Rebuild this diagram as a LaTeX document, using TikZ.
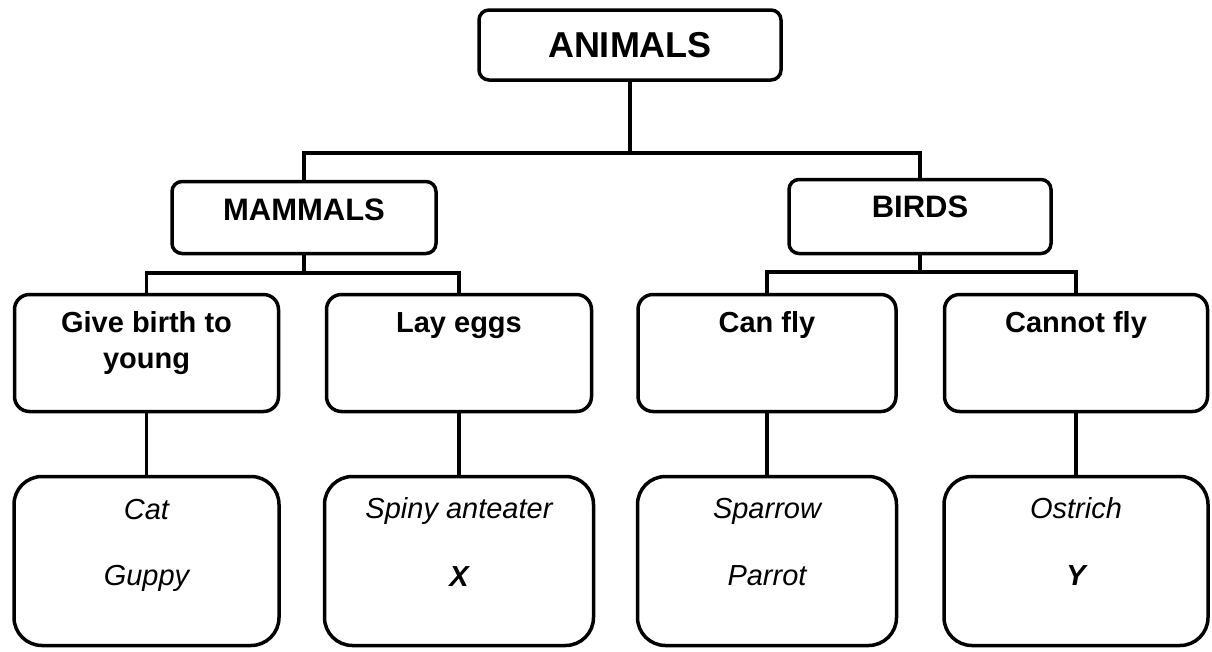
\documentclass[tikz,border=0pt]{standalone}
\usepackage{fontspec}
\setmainfont{Liberation Sans}
\begin{document}
\begin{tikzpicture}[x=1pt,y=-1pt,
  box/.style={draw=black, line width=3.5pt, inner sep=0pt, fill=white},
  lvltop/.style={box, rounded corners=10pt},
  lvlthree/.style={box, rounded corners=15pt, minimum height=117pt},
  lvlfour/.style={box, rounded corners=28pt, minimum height=169pt},
  link/.style={line width=3.5pt},
  hd/.style={font=\fontsize{29}{36}\selectfont\bfseries, anchor=base, inner sep=0pt, align=center},
  ex/.style={font=\fontsize{29}{36}\selectfont\itshape, anchor=base, inner sep=0pt},
  exb/.style={font=\fontsize{29}{36}\selectfont\bfseries\itshape, anchor=base, inner sep=0pt}]
\useasboundingbox (0,0) rectangle (1212,651);

% level 1 and 2 boxes
\node[lvltop, minimum width=302pt, minimum height=70pt] (animals) at (630,45) {};
\node[hd, font=\fontsize{36}{40}\selectfont\bfseries] (tanimals) at (630,57) {ANIMALS};
\node[lvltop, minimum width=264pt, minimum height=72pt] (mammals) at (304,217.5) {};
\node[hd, font=\fontsize{31}{36}\selectfont\bfseries] (tmammals) at (304,220) {MAMMALS};
\node[lvltop, minimum width=262pt, minimum height=74pt] (birds) at (920,216.5) {};
\node[hd, font=\fontsize{31}{36}\selectfont\bfseries] (tbirds) at (920,217) {BIRDS};

% level 3 boxes
\node[lvlthree, minimum width=264pt] (gb) at (146.5,353) {};
\node[lvlthree, minimum width=265pt] (le) at (459,353) {};
\node[lvlthree, minimum width=258pt] (cf) at (767,353) {};
\node[lvlthree, minimum width=263pt] (nf) at (1076,353) {};
\node[hd] (tgb) at (146.5,368) {Give birth to\\young};
\node[hd] (tle) at (459,332) {Lay eggs};
\node[hd] (tcf) at (767,332) {Can fly};
\node[hd] (tnf) at (1076,332) {Cannot fly};

% level 4 boxes
\node[lvlfour, minimum width=265pt] (gbx) at (146.5,561) {};
\node[lvlfour, minimum width=269pt] (lex) at (459,561) {};
\node[lvlfour, minimum width=259pt] (cfx) at (767,561) {};
\node[lvlfour, minimum width=264pt] (nfx) at (1076,561) {};
\node[ex] (tcat) at (146.5,519) {Cat};
\node[ex] (tguppy) at (146.5,585) {Guppy};
\node[ex] (tspiny) at (459,518) {Spiny anteater};
\node[exb] (tx) at (459,586) {X};
\node[ex] (tsparrow) at (767,518) {Sparrow};
\node[ex] (tparrot) at (767,585) {Parrot};
\node[ex] (tostrich) at (1076,518) {Ostrich};
\node[exb] (ty) at (1076,585) {Y};

% connectors
\coordinate (barone) at (630,153);
\coordinate (bartwo) at (304,273);
\coordinate (barthree) at (920,272);
\draw[link] (animals.south) -- (barone);
\draw[link] (mammals.north) |- (barone) -| (birds.north);
\draw[link] (mammals.south) -- (bartwo);
\draw[link] (gb.north) |- (bartwo) -| (le.north);
\draw[link] (birds.south) -- (barthree);
\draw[link] (cf.north) |- (barthree) -| (nf.north);
\draw[link] (gb.south) -- (gbx.north);
\draw[link] (le.south) -- (lex.north);
\draw[link] (cf.south) -- (cfx.north);
\draw[link] (nf.south) -- (nfx.north);
\end{tikzpicture}
\end{document}
